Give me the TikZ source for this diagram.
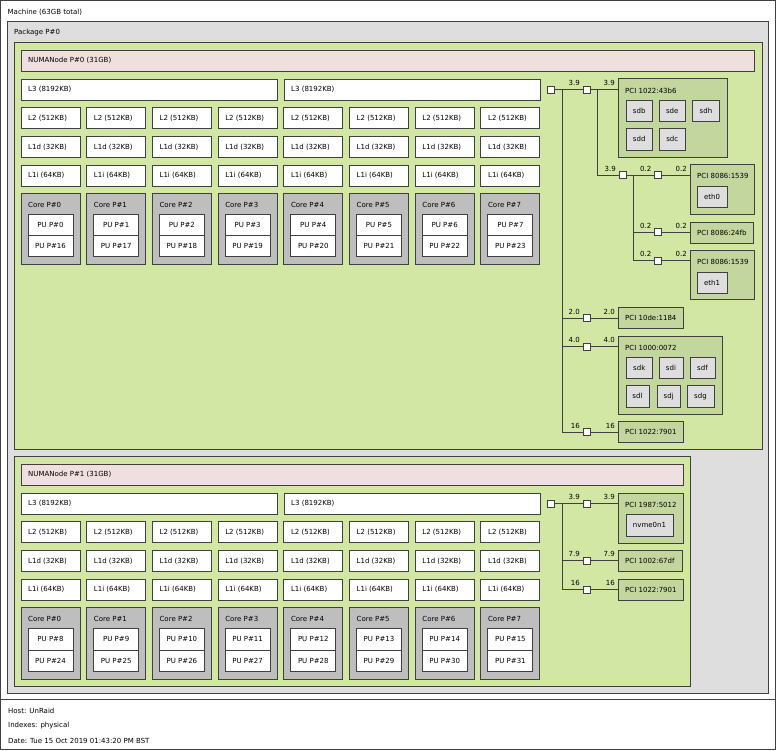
\documentclass[tikz,border=0pt]{standalone}
\usepackage{fontspec}
\setmainfont{DejaVu Sans}
\definecolor{bd}{RGB}{64,64,64}
\definecolor{pkgc}{RGB}{222,222,222}
\definecolor{numac}{RGB}{210,231,164}
\definecolor{memc}{RGB}{239,223,222}
\definecolor{corec}{RGB}{190,190,190}
\definecolor{pcic}{RGB}{195,214,158}
\definecolor{osc}{RGB}{222,222,222}
\tikzset{
 bx/.style={draw=bd, line width=0.9pt, inner sep=0pt, outer sep=0pt, anchor=north west},
 machine/.style={bx, fill=white},
 pkg/.style={bx, fill=pkgc},
 numa/.style={bx, fill=numac},
 mem/.style={bx, fill=memc},
 cache/.style={bx, fill=white},
 core/.style={bx, fill=corec},
 pu/.style={bx, fill=white},
 pcidev/.style={bx, fill=pcic},
 osdev/.style={bx, fill=osc},
 bridge/.style={draw=bd, line width=0.9pt, fill=white, minimum size=7pt, inner sep=0pt, outer sep=0pt},
 link/.style={draw=bd, line width=0.9pt},
 txt/.style={inner sep=0pt, anchor=west, text=black},
 bw/.style={inner sep=0pt, anchor=base east, text=black}
}
\newcommand\mybox[6]{\node[#1, minimum width=#5pt, minimum height=#6pt] (#2) at (#3,#4) {};}
\newcommand\lab[2]{\node[txt] (#1-l) at ([xshift=7pt]#1.west) {#2};}
\newcommand\toplab[3]{\node[txt] (#1-l) at ([xshift=7pt, yshift=-#3pt]#1.north west) {#2};}
\newcommand\cbox[7]{\node[#1, minimum width=#5pt, minimum height=#6pt] (#2) at (#3,#4) {#7};}
\begin{document}
\begin{tikzpicture}[x=1pt, y=-1pt, font=\fontsize{7}{8.4}\selectfont]
\useasboundingbox (0,0) rectangle (776,750);
% machine and legend
\mybox{machine}{mach}{0.5}{0.5}{775}{698.5}
\toplab{mach}{Machine (63GB total)}{12}
\mybox{machine}{legend}{0.5}{699}{775}{50.5}
\node[txt] (host) at (8,711) {Host: UnRaid};
\node[txt] (idx) at (8,726) {Indexes: physical};
\node[txt] (date) at (8,740.5) {Date: Tue 15 Oct 2019 01:43:20 PM BST};
% package
\mybox{pkg}{pkg0}{7}{21}{761.5}{672}
\toplab{pkg0}{Package P\#0}{12}
% NUMA 0
\mybox{numa}{numa0}{14}{42}{748}{407}
\mybox{mem}{mem0}{21}{50}{733}{21}
\lab{mem0}{NUMANode P\#0 (31GB)}
\mybox{cache}{n0l3a}{21}{79}{256}{21} \lab{n0l3a}{L3 (8192KB)}
\mybox{cache}{n0l3b}{284}{79}{256}{21} \lab{n0l3b}{L3 (8192KB)}
\foreach \i in {0,...,7} {
  \pgfmathsetmacro\cx{21+65.7*\i}
  \pgfmathtruncatemacro\pb{\i+16}
  \mybox{cache}{n0l2\i}{\cx}{107.5}{59}{21} \lab{n0l2\i}{L2 (512KB)}
  \mybox{cache}{n0l1d\i}{\cx}{136.5}{59}{21} \lab{n0l1d\i}{L1d (32KB)}
  \mybox{cache}{n0l1i\i}{\cx}{165}{59}{21} \lab{n0l1i\i}{L1i (64KB)}
  \mybox{core}{n0c\i}{\cx}{193.5}{59}{71} \toplab{n0c\i}{Core P\#\i}{11}
  \node[pu, minimum width=45pt, minimum height=21pt] (n0pa\i) at ({\cx+7},214) {PU P\#\i};
  \node[pu, minimum width=45pt, minimum height=21pt] (n0pb\i) at ({\cx+7},235) {PU P\#\pb};
}
% NUMA 0 I/O
\node[bridge] (b0) at (550.5,89.5) {};
\node[bridge] (b1) at (586.5,89.5) {};
\mybox{pcidev}{p1}{618}{78}{109}{79} \toplab{p1}{PCI 1022:43b6}{12.5}
\cbox{osdev}{sdb}{626}{100}{26.5}{21.5}{sdb}
\cbox{osdev}{sde}{659}{100}{26.5}{21.5}{sde}
\cbox{osdev}{sdh}{692.5}{100}{27}{21.5}{sdh}
\cbox{osdev}{sdd}{626}{128.5}{26.5}{21.5}{sdd}
\cbox{osdev}{sdc}{659}{128.5}{26.5}{21.5}{sdc}
\node[bridge] (b2) at (622.5,175) {};
\node[bridge] (b3) at (658,175) {};
\mybox{pcidev}{p2}{690}{164}{64}{50} \toplab{p2}{PCI 8086:1539}{12}
\cbox{osdev}{eth0}{697}{186}{30}{21}{eth0}
\node[bridge] (b4) at (658,232) {};
\mybox{pcidev}{p3}{690}{222}{63}{21} \lab{p3}{PCI 8086:24fb}
\node[bridge] (b5) at (658,260.5) {};
\mybox{pcidev}{p4}{690}{250}{64}{49} \toplab{p4}{PCI 8086:1539}{12}
\cbox{osdev}{eth1}{697}{272}{30}{21}{eth1}
\node[bridge] (b6) at (586.5,318) {};
\mybox{pcidev}{p5}{618}{307.5}{65}{21} \lab{p5}{PCI 10de:1184}
\node[bridge] (b7) at (586.5,346.5) {};
\mybox{pcidev}{p6}{618}{336}{104}{78} \toplab{p6}{PCI 1000:0072}{12}
\cbox{osdev}{sdk}{626}{357}{26.5}{21.5}{sdk}
\cbox{osdev}{sdi}{659}{357}{24}{21.5}{sdi}
\cbox{osdev}{sdf}{690}{357}{25}{21.5}{sdf}
\cbox{osdev}{sdl}{626}{385.5}{23}{21.5}{sdl}
\cbox{osdev}{sdj}{657}{385.5}{23.5}{21.5}{sdj}
\cbox{osdev}{sdg}{687}{385.5}{27}{21.5}{sdg}
\node[bridge] (b8) at (586.5,432) {};
\mybox{pcidev}{p7}{618}{421.5}{65}{21} \lab{p7}{PCI 1022:7901}
% trunks
\coordinate (t0) at (562,89.5);
\coordinate (t1) at (597,89.5);
\coordinate (t2) at (633,175);
\draw[link] (b0.east) -- (b1.west);
\draw[link] (b1.east) -- (b1.east -| p1.west);
\draw[link] (t0) |- (b6.west);
\draw[link] (t0) |- (b7.west);
\draw[link] (t0) |- (b8.west);
\draw[link] (b6.east) -- (b6.east -| p5.west);
\draw[link] (b7.east) -- (b7.east -| p6.west);
\draw[link] (b8.east) -- (b8.east -| p7.west);
\draw[link] (t1) |- (b2.west);
\draw[link] (b2.east) -- (b3.west);
\draw[link] (b3.east) -- (b3.east -| p2.west);
\draw[link] (t2) |- (b4.west);
\draw[link] (t2) |- (b5.west);
\draw[link] (b4.east) -- (b4.east -| p3.west);
\draw[link] (b5.east) -- (b5.east -| p4.west);
\node[bridge] at (b0) {};
\node[bridge] at (b1) {};
\node[bridge] at (b2) {};
% bandwidth labels
\node[bw] at ([xshift=-3pt,yshift=4pt]b1.west) {3.9};
\node[bw] at ([xshift=-3pt,yshift=4pt]b1.east -| p1.west) {3.9};
\node[bw] at ([xshift=-3pt,yshift=4pt]b2.west) {3.9};
\node[bw] at ([xshift=-3pt,yshift=4pt]b3.west) {0.2};
\node[bw] at ([xshift=-3pt,yshift=4pt]b3.east -| p2.west) {0.2};
\node[bw] at ([xshift=-3pt,yshift=4pt]b4.west) {0.2};
\node[bw] at ([xshift=-3pt,yshift=4pt]b4.east -| p3.west) {0.2};
\node[bw] at ([xshift=-3pt,yshift=4pt]b5.west) {0.2};
\node[bw] at ([xshift=-3pt,yshift=4pt]b5.east -| p4.west) {0.2};
\node[bw] at ([xshift=-3pt,yshift=4pt]b6.west) {2.0};
\node[bw] at ([xshift=-3pt,yshift=4pt]b6.east -| p5.west) {2.0};
\node[bw] at ([xshift=-3pt,yshift=4pt]b7.west) {4.0};
\node[bw] at ([xshift=-3pt,yshift=4pt]b7.east -| p6.west) {4.0};
\node[bw] at ([xshift=-3pt,yshift=4pt]b8.west) {16};
\node[bw] at ([xshift=-3pt,yshift=4pt]b8.east -| p7.west) {16};
% NUMA 1
\mybox{numa}{numa1}{14}{456}{676}{230}
\mybox{mem}{mem1}{21}{464}{662}{21}
\lab{mem1}{NUMANode P\#1 (31GB)}
\mybox{cache}{n1l3a}{21}{493}{256}{21} \lab{n1l3a}{L3 (8192KB)}
\mybox{cache}{n1l3b}{284}{493}{256}{21} \lab{n1l3b}{L3 (8192KB)}
\foreach \i in {0,...,7} {
  \pgfmathsetmacro\cx{21+65.7*\i}
  \pgfmathtruncatemacro\pa{\i+8}
  \pgfmathtruncatemacro\pb{\i+24}
  \mybox{cache}{n1l2\i}{\cx}{521.5}{59}{21} \lab{n1l2\i}{L2 (512KB)}
  \mybox{cache}{n1l1d\i}{\cx}{550.5}{59}{21} \lab{n1l1d\i}{L1d (32KB)}
  \mybox{cache}{n1l1i\i}{\cx}{579}{59}{21} \lab{n1l1i\i}{L1i (64KB)}
  \mybox{core}{n1c\i}{\cx}{607.5}{59}{71.5} \toplab{n1c\i}{Core P\#\i}{11}
  \node[pu, minimum width=45pt, minimum height=21.5pt] (n1pa\i) at ({\cx+7},628.5) {PU P\#\pa};
  \node[pu, minimum width=45pt, minimum height=21.5pt] (n1pb\i) at ({\cx+7},650) {PU P\#\pb};
}
% NUMA 1 I/O
\node[bridge] (c0) at (550.5,503.5) {};
\node[bridge] (c1) at (586.5,503.5) {};
\mybox{pcidev}{q1}{618}{493}{65}{50} \toplab{q1}{PCI 1987:5012}{12}
\cbox{osdev}{nvme}{626}{514}{47}{22}{nvme0n1}
\node[bridge] (c2) at (586.5,560.5) {};
\mybox{pcidev}{q2}{618}{550}{64}{21} \lab{q2}{PCI 1002:67df}
\node[bridge] (c3) at (586.5,589.5) {};
\mybox{pcidev}{q3}{618}{579}{65}{21} \lab{q3}{PCI 1022:7901}
\coordinate (u0) at (562,503.5);
\draw[link] (c0.east) -- (c1.west);
\draw[link] (c1.east) -- (c1.east -| q1.west);
\draw[link] (u0) |- (c2.west);
\draw[link] (u0) |- (c3.west);
\draw[link] (c2.east) -- (c2.east -| q2.west);
\draw[link] (c3.east) -- (c3.east -| q3.west);
\node[bridge] at (c0) {};
\node[bridge] at (c1) {};
\node[bw] at ([xshift=-3pt,yshift=4pt]c1.west) {3.9};
\node[bw] at ([xshift=-3pt,yshift=4pt]c1.east -| q1.west) {3.9};
\node[bw] at ([xshift=-3pt,yshift=4pt]c2.west) {7.9};
\node[bw] at ([xshift=-3pt,yshift=4pt]c2.east -| q2.west) {7.9};
\node[bw] at ([xshift=-3pt,yshift=4pt]c3.west) {16};
\node[bw] at ([xshift=-3pt,yshift=4pt]c3.east -| q3.west) {16};
\end{tikzpicture}
\end{document}
